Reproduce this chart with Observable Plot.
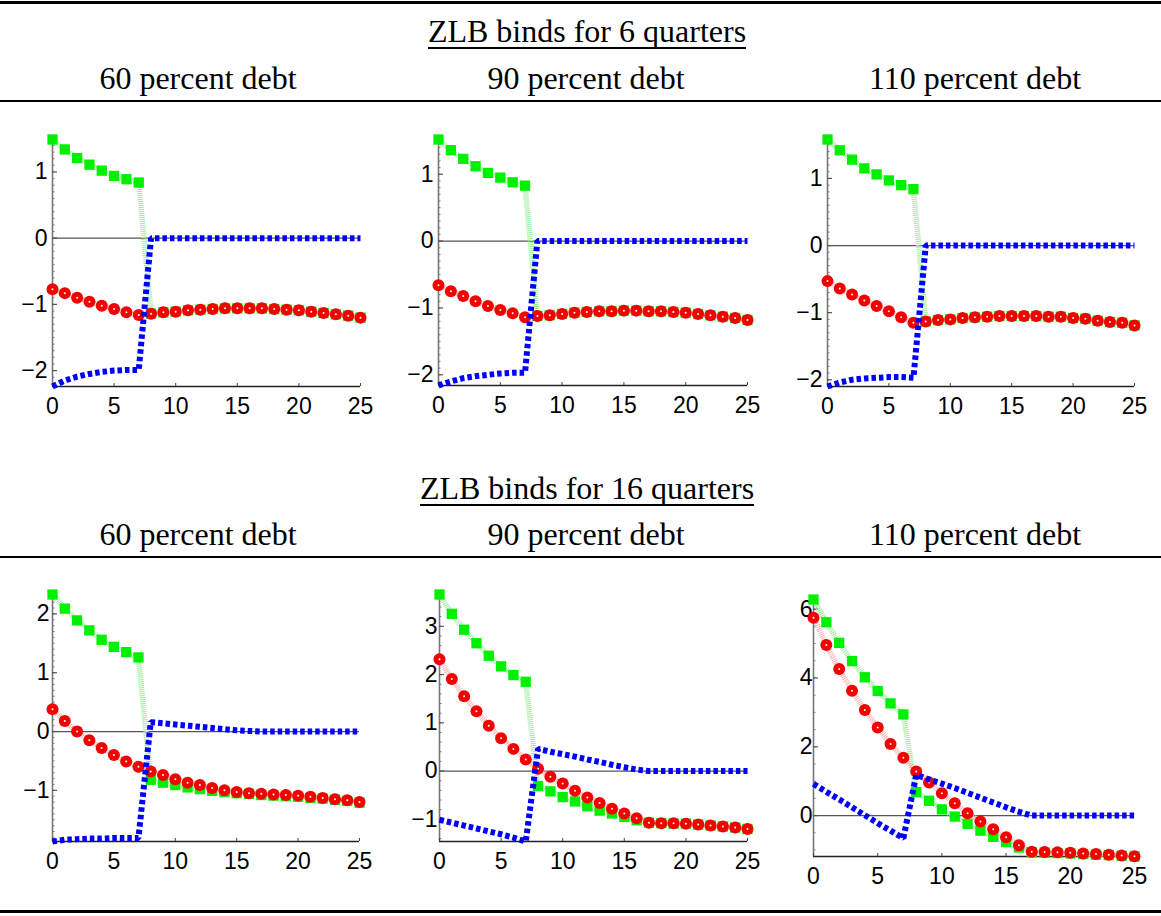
<!DOCTYPE html>
<html>
<head>
<meta charset="utf-8">
<script src="https://cdn.jsdelivr.net/npm/d3@7"></script>
<script src="https://cdn.jsdelivr.net/npm/@observablehq/plot@0.6"></script>
<style>
  html, body { margin: 0; padding: 0; background: #fff; }
  #page { position: relative; width: 1161px; height: 916px; overflow: hidden; background: #fff; }
  .rule { position: absolute; left: 0; width: 1161px; background: #000; }
  .title { position: absolute; width: 600px; text-align: center; font-family: "Liberation Serif", "DejaVu Serif", serif; font-size: 32px; line-height: 32px; color: #000; white-space: nowrap; }
  .title span.u { display: inline-block; border-bottom: 2px solid #000; padding-bottom: 0px; }
  .panel { position: absolute; }
</style>
</head>
<body>
<div id="page"></div>
<script>
// ---------------- data ----------------
const quarters = [0,1,2,3,4,5,6,7,8,9,10,11,12,13,14,15,16,17,18,19,20,21,22,23,24,25];
const xTickLabels = [0,5,10,15,20,25];

const blockTitles = ["ZLB binds for 6 quarters", "ZLB binds for 16 quarters"];
const columnTitles = ["60 percent debt", "90 percent debt", "110 percent debt"];

// ZLB binds for 6 quarters, 60 percent debt
const green6_60 = [1.49,1.34,1.21,1.11,1.02,0.94,0.89,0.84,-1.14,-1.12,-1.11,-1.09,-1.08,-1.07,-1.06,-1.06,-1.06,-1.06,-1.07,-1.08,-1.09,-1.11,-1.13,-1.15,-1.17,-1.20];
const red6_60   = [-0.77,-0.83,-0.90,-0.96,-1.02,-1.07,-1.12,-1.16,-1.14,-1.12,-1.11,-1.09,-1.08,-1.07,-1.06,-1.06,-1.06,-1.06,-1.07,-1.08,-1.09,-1.11,-1.13,-1.15,-1.17,-1.20];
const blue6_60  = [-2.24,-2.15,-2.09,-2.05,-2.02,-2.00,-1.99,-1.99,0,0,0,0,0,0,0,0,0,0,0,0,0,0,0,0,0,0];
// ZLB binds for 6 quarters, 90 percent debt
const green6_90 = [1.52,1.36,1.23,1.12,1.02,0.95,0.88,0.83,-1.12,-1.11,-1.09,-1.07,-1.06,-1.05,-1.05,-1.04,-1.04,-1.05,-1.05,-1.06,-1.07,-1.09,-1.11,-1.13,-1.15,-1.18];
const red6_90   = [-0.66,-0.75,-0.82,-0.90,-0.97,-1.03,-1.08,-1.14,-1.12,-1.11,-1.09,-1.07,-1.06,-1.05,-1.05,-1.04,-1.04,-1.05,-1.05,-1.06,-1.07,-1.09,-1.11,-1.13,-1.15,-1.18];
const blue6_90  = [-2.16,-2.10,-2.05,-2.02,-2.00,-1.98,-1.97,-1.97,0,0,0,0,0,0,0,0,0,0,0,0,0,0,0,0,0,0];
// ZLB binds for 6 quarters, 110 percent debt
const green6_110 = [1.58,1.42,1.28,1.15,1.06,0.97,0.90,0.84,-1.13,-1.11,-1.10,-1.08,-1.07,-1.06,-1.05,-1.05,-1.05,-1.05,-1.06,-1.06,-1.08,-1.09,-1.12,-1.14,-1.15,-1.19];
const red6_110   = [-0.53,-0.64,-0.73,-0.82,-0.90,-0.98,-1.07,-1.15,-1.13,-1.11,-1.10,-1.08,-1.07,-1.06,-1.05,-1.05,-1.05,-1.05,-1.06,-1.06,-1.08,-1.09,-1.12,-1.14,-1.15,-1.19];
const blue6_110  = [-2.10,-2.04,-2.00,-1.98,-1.97,-1.96,-1.96,-1.97,0,0,0,0,0,0,0,0,0,0,0,0,0,0,0,0,0,0];
// ZLB binds for 16 quarters, 60 percent debt
const green16_60 = [2.33,2.09,1.89,1.72,1.56,1.44,1.35,1.26,-0.82,-0.87,-0.91,-0.95,-0.98,-1.01,-1.03,-1.05,-1.06,-1.08,-1.09,-1.10,-1.11,-1.13,-1.14,-1.16,-1.18,-1.21];
const red16_60   = [0.38,0.18,0.00,-0.15,-0.28,-0.40,-0.51,-0.60,-0.68,-0.74,-0.81,-0.87,-0.91,-0.96,-1.00,-1.03,-1.05,-1.06,-1.07,-1.08,-1.09,-1.11,-1.13,-1.15,-1.17,-1.20];
const blue16_60  = [-1.87,-1.84,-1.83,-1.82,-1.82,-1.81,-1.81,-1.81,0.16,0.14,0.12,0.10,0.08,0.06,0.04,0.02,0.01,0,0,0,0,0,0,0,0,0];
// ZLB binds for 16 quarters, 90 percent debt
const green16_90 = [3.66,3.26,2.93,2.65,2.39,2.17,1.99,1.85,-0.31,-0.42,-0.54,-0.63,-0.73,-0.82,-0.88,-0.95,-1.02,-1.07,-1.08,-1.09,-1.09,-1.11,-1.13,-1.15,-1.17,-1.20];
const red16_90   = [2.32,1.91,1.55,1.24,0.94,0.68,0.46,0.24,0.05,-0.12,-0.26,-0.41,-0.55,-0.66,-0.78,-0.88,-0.98,-1.07,-1.08,-1.08,-1.09,-1.11,-1.13,-1.15,-1.17,-1.20];
const blue16_90  = [-1.01,-1.07,-1.13,-1.19,-1.25,-1.31,-1.38,-1.46,0.46,0.40,0.35,0.30,0.24,0.19,0.13,0.08,0.03,0,0,0,0,0,0,0,0,0];
// ZLB binds for 16 quarters, 110 percent debt
const green16_110 = [6.28,5.62,5.02,4.49,4.02,3.62,3.26,2.94,0.68,0.43,0.18,-0.03,-0.24,-0.44,-0.62,-0.77,-0.93,-1.07,-1.08,-1.09,-1.10,-1.12,-1.14,-1.15,-1.17,-1.19];
const red16_110   = [5.75,4.96,4.26,3.63,3.07,2.56,2.08,1.68,1.28,0.96,0.65,0.36,0.07,-0.17,-0.40,-0.63,-0.86,-1.05,-1.06,-1.07,-1.08,-1.10,-1.12,-1.14,-1.16,-1.18];
const blue16_110  = [0.92,0.69,0.47,0.24,0.01,-0.22,-0.44,-0.66,1.18,1.05,0.93,0.80,0.66,0.52,0.38,0.24,0.11,0,0,0,0,0,0,0,0,0];

const yTickLabels = [
  [-2,-1,0,1], [-2,-1,0,1], [-2,-1,0,1],
  [-1,0,1,2], [-1,0,1,2,3], [0,2,4,6]
];
const seriesSets = [
  [green6_60, red6_60, blue6_60],
  [green6_90, red6_90, blue6_90],
  [green6_110, red6_110, blue6_110],
  [green16_60, red16_60, blue16_60],
  [green16_90, red16_90, blue16_90],
  [green16_110, red16_110, blue16_110]
];

// ---------------- layout ----------------
const layout = [
  {left: 0,   top: 110, width: 388, height: 310, mL: 52, mR: 28, mT: 29, mB: 34, pad: 5, minor: 0.1},
  {left: 388, top: 110, width: 388, height: 310, mL: 50, mR: 29, mT: 29, mB: 35, pad: 5, minor: 0.1},
  {left: 776, top: 110, width: 385, height: 310, mL: 51, mR: 27, mT: 29, mB: 34, pad: 5, minor: 0.1},
  {left: 0,   top: 565, width: 388, height: 335, mL: 52, mR: 29, mT: 29, mB: 59, pad: 3, minor: 0.1},
  {left: 388, top: 565, width: 388, height: 335, mL: 51, mR: 29, mT: 29, mB: 59, pad: 2, minor: 0.2},
  {left: 776, top: 565, width: 385, height: 335, mL: 37, mR: 27, mT: 34, mB: 44, pad: 1, minor: 0.5}
];

const page = document.getElementById("page");

function addRule(top, h) {
  const d = document.createElement("div");
  d.className = "rule";
  d.style.top = top + "px";
  d.style.height = h + "px";
  page.appendChild(d);
}
function addTitle(text, cx, top, underline) {
  const d = document.createElement("div");
  d.className = "title";
  d.style.left = (cx - 300) + "px";
  d.style.top = top + "px";
  const s = document.createElement("span");
  if (underline) s.className = "u";
  s.textContent = text;
  d.appendChild(s);
  page.appendChild(d);
}

addRule(1, 3);
addRule(100, 2);
addRule(556, 2);
addRule(910, 3);

const colCenters = [198, 586, 975];
const blockTops = [15, 472];
const headerTops = [62, 518];
blockTitles.forEach((t, b) => {
  addTitle(t, 587, blockTops[b], true);
  columnTitles.forEach((c, i) => addTitle(c, colCenters[i], headerTops[b], false));
});

const fmt = d3.format("");

function panel(k) {
  const L = layout[k];
  const [g, r, b] = seriesSets[k];
  const rows = quarters.map((q, i) => ({q, g: g[i], r: r[i], b: b[i]}));
  const yDomain = d3.extent([...g, ...r, ...b]);
  const innerW = L.width - L.mL - L.mR;
  const innerH = L.height - L.mT - L.mB;
  const lo = Math.ceil(yDomain[0] / L.minor - 1e-9), hi = Math.floor(yDomain[1] / L.minor + 1e-9);
  const minorTicks = d3.range(lo, hi + 1).map(i => +(i * L.minor).toFixed(4));
  const chart = Plot.plot({
    width: L.width, height: L.height,
    marginLeft: L.mL, marginRight: L.mR, marginTop: L.mT, marginBottom: L.mB,
    x: {domain: [0, 25], axis: null},
    y: {domain: yDomain, axis: null},
    style: {background: "none", overflow: "visible", fontFamily: "'Liberation Sans', Arial, sans-serif", fontSize: "23px", color: "#000"},
    marks: [
      Plot.ruleY([0], {stroke: "#555", strokeWidth: 1.3}),
      Plot.ruleX([0], {stroke: "#777", strokeWidth: 1.6}),
      Plot.ruleY(minorTicks, {y: d => d, stroke: "#777", strokeWidth: 1, insetRight: innerW - 2.5}),
      Plot.ruleY(yTickLabels[k], {y: d => d, stroke: "#555", strokeWidth: 1.2, insetRight: innerW - 5}),
      Plot.axisY(yTickLabels[k], {tickSize: 0, tickPadding: L.pad, fontSize: 23, tickFormat: fmt, label: null}),
      Plot.ruleY([yDomain[0]], {stroke: "#222", strokeWidth: 1.3}),
      Plot.ruleX(xTickLabels, {x: d => d, stroke: "#444", strokeWidth: 1, insetTop: innerH - 3}),
      Plot.axisX(xTickLabels, {tickSize: 0, tickPadding: 11, fontSize: 23, tickFormat: fmt, label: null}),
      Plot.line(rows, {x: "q", y: "g", stroke: "#9aee9a", strokeWidth: 5.5, strokeDasharray: "1,1", strokeLinecap: "butt", strokeLinejoin: "miter"}),
      Plot.line(rows, {x: "q", y: "r", stroke: "#ffb0b0", strokeWidth: 5.5, strokeDasharray: "1,1", strokeLinecap: "butt", strokeLinejoin: "miter"}),
      Plot.dot(rows, {x: "q", y: "g", symbol: "square", r: 5.8, fill: "#00f000"}),
      Plot.dot(rows, {x: "q", y: "r", r: 6, fill: "#f40000"}),
      Plot.dot(rows, {x: "q", y: "r", r: 1, fill: "#ffffff"}),
      Plot.line(rows, {x: "q", y: "b", stroke: "#0000ff", strokeWidth: 6, strokeDasharray: "4.5,3", strokeLinecap: "butt", strokeLinejoin: "miter"})
    ]
  });
  const wrap = document.createElement("div");
  wrap.className = "panel";
  wrap.style.left = L.left + "px";
  wrap.style.top = L.top + "px";
  wrap.appendChild(chart);
  page.appendChild(wrap);
}
for (let k = 0; k < 6; k++) panel(k);
</script>
</body>
</html>
